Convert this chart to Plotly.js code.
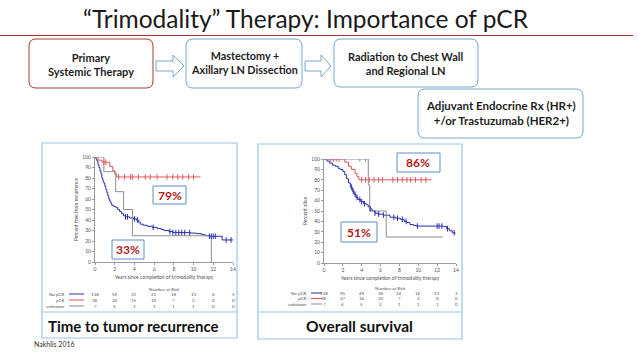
<!DOCTYPE html>
<html><head><meta charset="utf-8">
<script src="https://cdn.plot.ly/plotly-3.0.1.min.js"></script>
<style>html,body{margin:0;padding:0;background:#fff}#c{width:638px;height:359px}</style>
</head><body><div id="c"></div>
<script>
// ---------- DATA ----------
const riskTimes = [0, 2, 4, 6, 8, 10, 12, 14];
const groupNames = ["No pCR", "pCR", "unknown"];

// Time to tumor recurrence (left panel): step points [years], [% free]
const recNoPcrT = [0,0.1,0.2,0.3,0.4,0.5,0.6,0.7,0.8,0.9,1.0,1.1,1.2,1.3,1.4,1.5,1.6,1.7,1.9,2.1,2.3,2.5,2.7,2.9,3.1,3.5,3.9,4.2,4.4,4.6,4.9,5.3,5.8,6.3,6.7,7.0,7.5,7.9,9.7,10.3,10.8,11.2,11.6,12.9,14.0];
const recNoPcrS = [100,98,96,93,90,87,84,80,77,75,72,69,66,63,60,58,56,54,53,52,50,48,46,44,43,42,41,40,38,36,35,34,33,32,31,30,29,28,27.5,27,26,25,24.5,21,21];
const recPcrT = [0,0.3,0.7,1.5,1.8,2.0,2.2,10.7];
const recPcrS = [100,97,95,91,87,84,81,81];
const recUnkT = [0,0.9,2.1,2.9,3.8,11.8,11.8];
const recUnkS = [100,86,67,50,25,25,0];
const recNoPcrCens = [3.1,3.3,4.0,4.3,5.9,7.6,7.9,8.2,8.5,8.8,9.1,9.6,11.6,11.8,12.0,12.2,13.3,13.8];
const recPcrCens = [0.9,1.1,2.4,3.0,3.6,3.8,4.4,5.1,5.6,6.3,7.3,7.9,8.4,8.9,9.5,10.0];
const recRisk = [[138,59,31,21,18,13,6,5],[38,24,15,10,7,2,0,0],[7,5,1,1,1,1,0,0]];

// Overall survival (right panel)
const osNoPcrT = [0,0.3,0.6,0.9,1.2,1.5,1.7,2.0,2.2,2.4,2.6,2.8,3.0,3.2,3.4,3.6,3.9,4.2,4.5,4.7,4.9,5.1,5.4,5.7,6.3,7.0,7.6,8.1,8.5,8.8,9.1,9.5,9.8,12.7,13.0,13.3,13.6,13.9];
const osNoPcrS = [100,98,96,94,93,91,90,88,85,81,77,73,69,66,63,61,59,57,56,54,52,50,48,47,46,44,43,42,40,39,37,36,35.5,35,33,31,29,28];
const osPcrT = [0,1.8,2.2,2.6,2.9,3.3,3.5,3.7,11.4];
const osPcrS = [100,100,97,93,90,86,83,80,80];
const osUnkT = [0,4.7,4.85,6.6,12.6];
const osUnkS = [100,75,50,25,25];
const osNoPcrCens = [2.9,3.1,3.3,3.5,3.8,4.0,4.3,4.9,5.4,5.8,6.3,7.4,7.8,8.3,8.7,9.9,12.0,12.2,12.5,13.1,13.8];
const osPcrCens = [0.7,1.0,1.3,1.6,4.0,4.4,4.8,5.3,5.8,6.2,7.3,7.8,8.3,8.8,9.2,9.7,10.3,10.8];
const osUnkCens = [3.8,4.4];
const osRisk = [[138,95,49,30,24,16,13,3],[38,27,16,10,7,2,0,0],[7,6,5,2,1,1,1,0]];

const pctLabels = {rec:["79%","33%"], os:["86%","51%"]};

// ---------- STYLE ----------
const W = 638, H = 359;
const px = x => x / W, py = y => 1 - y / H;
const cBlue = "#2b2fb0", cRed = "#e0575a", cGrey = "#8e8e8e";
const groupColors = [cBlue, cRed, cGrey];
const FONT = "Lato, 'Open Sans', sans-serif";

function stepAt(T, S, t) { let v = S[0]; for (let i = 0; i < T.length; i++) { if (T[i] <= t) v = S[i]; } return v; }
function line(T, S, color, xa, ya) {
  return {x: T, y: S, type: "scatter", mode: "lines", line: {shape: "hv", color: color, width: 1}, xaxis: xa, yaxis: ya, hoverinfo: "skip"};
}
function cens(C, T, S, color, xa, ya) {
  return {x: C, y: C.map(t => stepAt(T, S, t)), type: "scatter", mode: "markers",
    marker: {symbol: "line-ns", size: 4, line: {color: color, width: 1}}, xaxis: xa, yaxis: ya, hoverinfo: "skip"};
}
const traces = [
  line(recNoPcrT, recNoPcrS, cBlue, "x", "y"), line(recPcrT, recPcrS, cRed, "x", "y"), line(recUnkT, recUnkS, cGrey, "x", "y"),
  cens(recNoPcrCens, recNoPcrT, recNoPcrS, cBlue, "x", "y"), cens(recPcrCens, recPcrT, recPcrS, cRed, "x", "y"),
  line(osNoPcrT, osNoPcrS, cBlue, "x2", "y2"), line(osPcrT, osPcrS, cRed, "x2", "y2"), line(osUnkT, osUnkS, cGrey, "x2", "y2"),
  cens(osNoPcrCens, osNoPcrT, osNoPcrS, cBlue, "x2", "y2"), cens(osPcrCens, osPcrT, osPcrS, cRed, "x2", "y2"),
  cens(osUnkCens, osUnkT, osUnkS, cGrey, "x2", "y2")
];

function xax(dom, anchor) {
  return {domain: dom, anchor: anchor, range: [0, 14], tickvals: riskTimes, showgrid: false, zeroline: false,
    showline: true, linecolor: "#9a9a9a", linewidth: 1, ticks: "outside", ticklen: 2, tickcolor: "#9a9a9a",
    tickfont: {size: 5, color: "#555", family: FONT}, automargin: false, fixedrange: true,
    title: {text: "Years since completion of trimodality therapy", font: {size: 5, color: "#555", family: FONT}, standoff: 4}};
}
function yax(dom, anchor, title) {
  return {domain: dom, anchor: anchor, range: [0, 100], dtick: 10, showgrid: false, zeroline: false,
    showline: true, linecolor: "#9a9a9a", linewidth: 1, ticks: "outside", ticklen: 2, tickcolor: "#9a9a9a",
    tickfont: {size: 5, color: "#555", family: FONT}, automargin: false, fixedrange: true,
    title: {text: title, font: {size: 5, color: "#555", family: FONT}, standoff: 3}};
}

function rrect(x0, y0, x1, y1, r) {
  return `M ${px(x0 + r)},${py(y0)} L ${px(x1 - r)},${py(y0)} Q ${px(x1)},${py(y0)} ${px(x1)},${py(y0 + r)} ` +
    `L ${px(x1)},${py(y1 - r)} Q ${px(x1)},${py(y1)} ${px(x1 - r)},${py(y1)} L ${px(x0 + r)},${py(y1)} ` +
    `Q ${px(x0)},${py(y1)} ${px(x0)},${py(y1 - r)} L ${px(x0)},${py(y0 + r)} Q ${px(x0)},${py(y0)} ${px(x0 + r)},${py(y0)} Z`;
}
function arrowPath(xa, xh, xt, yc, bh, hh) {
  return `M ${px(xa)},${py(yc - bh)} L ${px(xh)},${py(yc - bh)} L ${px(xh)},${py(yc - hh)} L ${px(xt)},${py(yc)} ` +
    `L ${px(xh)},${py(yc + hh)} L ${px(xh)},${py(yc + bh)} L ${px(xa)},${py(yc + bh)} Z`;
}
const boxBlue = "#7aa6cc", frameBlue = "#9ec3e4";
const shapes = [
  {type: "line", xref: "paper", yref: "paper", x0: px(0), x1: px(633), y0: py(35.5), y1: py(35.5), line: {color: "#a5322f", width: 1}},
  {type: "path", xref: "paper", yref: "paper", path: rrect(29, 39, 153, 88, 7), line: {color: "#a33a3a", width: 1}, fillcolor: "#fff"},
  {type: "path", xref: "paper", yref: "paper", path: rrect(186, 39, 302, 88, 7), line: {color: boxBlue, width: 1}, fillcolor: "#fff"},
  {type: "path", xref: "paper", yref: "paper", path: rrect(334, 39, 478, 87, 7), line: {color: boxBlue, width: 1}, fillcolor: "#fff"},
  {type: "path", xref: "paper", yref: "paper", path: rrect(418, 89, 583, 138, 7), line: {color: boxBlue, width: 1}, fillcolor: "#fff"},
  {type: "path", xref: "paper", yref: "paper", path: arrowPath(156, 173, 184, 66, 5, 11), line: {color: boxBlue, width: 1}, fillcolor: "#fff"},
  {type: "path", xref: "paper", yref: "paper", path: arrowPath(305, 321, 331, 66, 5, 11), line: {color: boxBlue, width: 1}, fillcolor: "#fff"},
  // panel frames
  {type: "rect", xref: "paper", yref: "paper", x0: px(42), x1: px(237), y0: py(143), y1: py(338), line: {color: frameBlue, width: 1.2}},
  {type: "line", xref: "paper", yref: "paper", x0: px(42), x1: px(237), y0: py(312), y1: py(312), line: {color: frameBlue, width: 1.2}},
  {type: "rect", xref: "paper", yref: "paper", x0: px(258), x1: px(462), y0: py(144), y1: py(339), line: {color: frameBlue, width: 1.2}},
  {type: "line", xref: "paper", yref: "paper", x0: px(258), x1: px(462), y0: py(312), y1: py(312), line: {color: frameBlue, width: 1.2}},
  // percent boxes
  {type: "rect", xref: "paper", yref: "paper", x0: px(153), x1: px(186), y0: py(186), y1: py(204), line: {color: "#5b8fc4", width: 1}, fillcolor: "#fff"},
  {type: "rect", xref: "paper", yref: "paper", x0: px(112), x1: px(144), y0: py(240), y1: py(259), line: {color: "#5b8fc4", width: 1}, fillcolor: "#fff"},
  {type: "rect", xref: "paper", yref: "paper", x0: px(397), x1: px(440), y0: py(153), y1: py(172), line: {color: "#5b8fc4", width: 1}, fillcolor: "#fff"},
  {type: "rect", xref: "paper", yref: "paper", x0: px(341), x1: px(377), y0: py(222), y1: py(242), line: {color: "#5b8fc4", width: 1}, fillcolor: "#fff"}
];
// risk-table legend line samples
const riskRowsLeft = [294, 300, 306], riskRowsRight = [293, 298.5, 304];
groupColors.forEach((c, i) => {
  shapes.push({type: "line", xref: "paper", yref: "paper", x0: px(69), x1: px(84), y0: py(riskRowsLeft[i]), y1: py(riskRowsLeft[i]), line: {color: c, width: 1}});
  shapes.push({type: "line", xref: "paper", yref: "paper", x0: px(311), x1: px(322), y0: py(riskRowsRight[i]), y1: py(riskRowsRight[i]), line: {color: c, width: 1}});
});

function txt(text, x, y, size, opts) {
  return Object.assign({text: text, xref: "paper", yref: "paper", x: px(x), y: py(y), showarrow: false,
    xanchor: "center", yanchor: "middle", font: {family: FONT, size: size, color: "#1e1e1e"}}, opts || {});
}
const bold = (s, c) => ({family: FONT, size: s, color: c || "#1e1e1e", weight: 700});
const annotations = [
  txt("“Trimodality” Therapy: Importance of pCR", 306, 18, 24.5, {font: {family: FONT, size: 24.5, color: "#1a1a1a", weight: 400}}),
  txt("Primary<br>Systemic Therapy", 91, 64.5, 11, {font: bold(11)}),
  txt("Mastectomy +<br>Axillary LN Dissection", 244, 62, 10.8, {font: bold(10.8)}),
  txt("Radiation to Chest Wall<br>and Regional LN", 406, 64, 11, {font: bold(11)}),
  txt("Adjuvant Endocrine Rx (HR+)<br>+/or Trastuzumab (HER2+)", 500.5, 113, 11.5, {font: bold(11.5)}),
  txt("Time to tumor recurrence", 133, 325.5, 15, {font: bold(15, "#111")}),
  txt("Overall survival", 360, 325.5, 15.5, {font: bold(15.5, "#111")}),
  txt(pctLabels.rec[0], 169.5, 195, 12, {font: bold(12, "#b01c1c")}),
  txt(pctLabels.rec[1], 128, 249.5, 12, {font: bold(12, "#b01c1c")}),
  txt(pctLabels.os[0], 418.5, 162.5, 12, {font: bold(12, "#b01c1c")}),
  txt(pctLabels.os[1], 359, 232, 12, {font: bold(12, "#b01c1c")}),
  txt("Nakhlis 2016", 32, 344, 7, {xanchor: "left", font: {family: FONT, size: 7, color: "#333"}}),
  txt("Number at Risk", 164, 289, 4.5, {font: {family: FONT, size: 4.5, color: "#555"}}),
  txt("Number at Risk", 390, 288, 4.5, {font: {family: FONT, size: 4.5, color: "#555"}})
];
groupNames.forEach((g, i) => {
  annotations.push(txt(g, 67, riskRowsLeft[i], 4.5, {xanchor: "right", font: {family: FONT, size: 4.5, color: "#555"}}));
  annotations.push(txt(g, 309, riskRowsRight[i], 4.5, {xanchor: "right", font: {family: FONT, size: 4.5, color: "#555"}}));
  riskTimes.forEach((t, j) => {
    annotations.push({text: String(recRisk[i][j]), xref: "x", yref: "paper", x: t, y: py(riskRowsLeft[i]), showarrow: false,
      xanchor: "center", yanchor: "middle", font: {family: FONT, size: 4.5, color: "#555"}});
    annotations.push({text: String(osRisk[i][j]), xref: "x2", yref: "paper", x: t, y: py(riskRowsRight[i]), showarrow: false,
      xanchor: "center", yanchor: "middle", font: {family: FONT, size: 4.5, color: "#555"}});
  });
});

const layout = {
  width: W, height: H, margin: {l: 0, r: 0, t: 0, b: 0}, paper_bgcolor: "#fff", plot_bgcolor: "rgba(0,0,0,0)",
  showlegend: false,
  xaxis: xax([px(95), px(233)], "y"), yaxis: yax([py(262), py(157)], "x", "Percent free from recurrence"),
  xaxis2: xax([px(324), px(456)], "y2"), yaxis2: yax([py(263), py(159)], "x2", "Percent alive"),
  shapes: shapes, annotations: annotations
};
Plotly.newPlot("c", traces, layout, {staticPlot: true, displayModeBar: false});
</script></body></html>
